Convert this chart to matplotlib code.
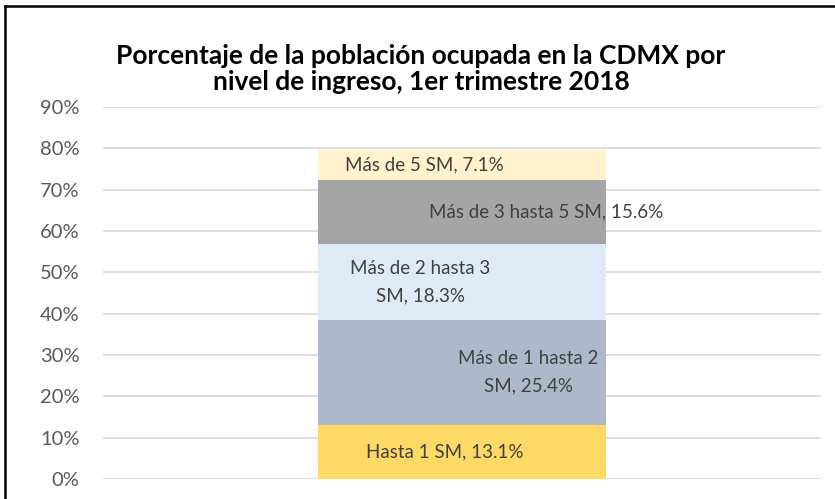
import matplotlib.pyplot as plt
from matplotlib.lines import Line2D

# Data
categories = ['Hasta 1 SM', 'Más de 1 hasta 2 SM', 'Más de 2 hasta 3 SM',
              'Más de 3 hasta 5 SM', 'Más de 5 SM']
values = [13.1, 25.4, 18.3, 15.6, 7.1]
labels = ['Hasta 1 SM, 13.1%', 'Más de 1 hasta 2\nSM, 25.4%', 'Más de 2 hasta 3\nSM, 18.3%',
          'Más de 3 hasta 5 SM, 15.6%', 'Más de 5 SM, 7.1%']
colors = ['#FFD966', '#ADB9CA', '#DEEBF7', '#A5A5A5', '#FFF2CC']
# horizontal offsets of the data labels (x units, bar centre = 0)
label_dx = [-0.024, 0.092, -0.058, 0.117, -0.052]

plt.rcParams['font.family'] = ['Lato', 'DejaVu Sans']

fig = plt.figure(figsize=(8.35, 4.99), dpi=100)
ax = fig.add_axes([103 / 835, 1 - 479 / 499, 718 / 835, 372 / 499])

# Stacked bar
bottom = 0
for v, lab, c, dx in zip(values, labels, colors, label_dx):
    ax.bar(0, v / 100, bottom=bottom / 100, width=0.4, color=c, zorder=2)
    ax.text(dx, (bottom + v / 2) / 100, lab, ha='center', va='center',
            fontsize=13.5, color='#404040', linespacing=1.75, zorder=3)
    bottom += v

ax.set_xlim(-0.5, 0.5)
ax.set_ylim(0, 0.9)
ax.set_yticks([i / 10 for i in range(10)])
ax.set_yticklabels([f'{i * 10}%' for i in range(10)])
ax.tick_params(axis='y', length=0, pad=17, labelsize=14.5, labelcolor='#595959')
ax.set_xticks([])
ax.grid(axis='y', color='#D9D9D9', linewidth=1.3, zorder=0)
ax.set_axisbelow(True)
for s in ax.spines.values():
    s.set_visible(False)

# Title
fig.text(421 / 835, 1 - 69 / 499,
         'Porcentaje de la población ocupada en la CDMX por\nnivel de ingreso, 1er trimestre 2018',
         ha='center', va='center', fontsize=19, fontweight='bold', color='black',
         linespacing=1.15)

# Chart frame (top and left edges visible)
fig.add_artist(Line2D([5 / 835, 1], [1 - 6 / 499, 1 - 6 / 499], color='black', linewidth=1.8,
                      transform=fig.transFigure))
fig.add_artist(Line2D([5 / 835, 5 / 835], [0, 1 - 6 / 499], color='black', linewidth=1.8,
                      transform=fig.transFigure))

fig.savefig('out.png', dpi=100)
